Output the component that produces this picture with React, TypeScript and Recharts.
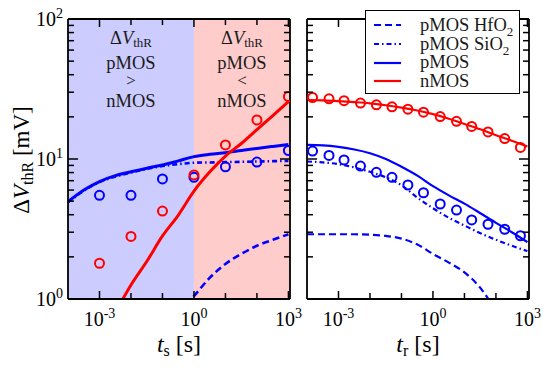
import React from 'react';
import {
  ComposedChart,
  Line,
  Scatter,
  XAxis,
  YAxis,
  ReferenceArea,
  Legend,
} from 'recharts';

const FONT = '"Liberation Serif", "Times New Roman", serif';
const BLUE = '#0000ff';
const RED = '#ff0000';

// ---- stress phase (left panel) ----
const tsMeas = [1e-3, 1e-2, 1e-1, 1, 10, 100, 1000];
const pmosStressMeas = [5.5, 5.5, 7.2, 7.4, 8.8, 9.5, 11.5];
const nmosStressMeas = [1.8, 2.8, 4.25, 7.7, 12.6, 19.0, 27.9];

// model curves sampled every half decade
const tModel = [1e-4, 3.2e-4, 1e-3, 3.2e-3, 1e-2, 3.2e-2, 0.1, 0.32, 1, 3.2, 10, 32, 100, 320, 1000];
const pmosStressModel = [4.95, 6.0, 6.9, 7.6, 8.1, 8.6, 9.06, 9.7, 10.4, 10.8, 11.1, 11.5, 11.9, 12.3, 12.7];
const sio2StressModel = [4.9, 5.95, 6.85, 7.5, 8.0, 8.5, 8.9, 9.2, 9.4, 9.45, 9.5, 9.55, 9.6, 9.65, 9.7];
const tHfStress = [0.32, 1, 3.2, 10, 32, 100, 320, 1000];
const hfo2StressModel = [0.8, 1.05, 1.42, 1.78, 2.1, 2.4, 2.65, 2.9];
const tnStress = [3.2e-3, 1e-2, 3.2e-2, 0.1, 0.32, 1, 3.2, 10, 32, 100, 320, 1000];
const nmosStressModel = [0.8, 1.26, 1.86, 2.82, 3.98, 5.9, 8.1, 10.5, 12.9, 16.2, 20.4, 25.7];

// ---- relaxation phase (right panel) ----
const trMeas = [1.5e-4, 5e-4, 1.5e-3, 5e-3, 1.6e-2, 5e-2, 0.16, 0.5, 1.7, 5.6, 17, 56, 190, 600];
const pmosRelaxMeas = [11.4, 10.6, 9.84, 8.91, 8.04, 7.4, 6.52, 5.74, 4.77, 4.32, 3.67, 3.42, 3.15, 2.83];
const nmosRelaxMeas = [27.5, 26.9, 26.1, 25.1, 24.4, 23.6, 22.7, 21.6, 20.1, 18.6, 17.1, 15.6, 14.0, 12.1];
const pmosRelaxModel = [12.6, 12.5, 12.2, 11.7, 11.0, 10.0, 8.8, 7.6, 6.4, 5.5, 4.8, 4.1, 3.5, 3.0, 2.55];
const sio2RelaxModel = [9.6, 9.45, 9.2, 8.7, 8.1, 7.4, 6.5, 5.3, 4.45, 3.8, 3.35, 2.95, 2.65, 2.4, 2.2];
const tHfRelax = [1e-4, 3.2e-4, 1e-3, 3.2e-3, 1e-2, 3.2e-2, 0.1, 0.32, 1, 3.2, 10, 32, 100];
const hfo2RelaxModel = [2.9, 2.9, 2.9, 2.9, 2.88, 2.82, 2.7, 2.45, 2.1, 1.82, 1.55, 1.2, 0.82];
const nmosRelaxModel = [26.4, 26.2, 25.9, 25.5, 25.0, 24.2, 23.3, 22.2, 20.9, 19.4, 17.8, 16.3, 14.8, 13.5, 12.3];

const xTicks = [1e-3, 1e-2, 1e-1, 1, 10, 100, 1000];
const yTicks = [1, 2, 3, 4, 5, 6, 7, 8, 9, 10, 20, 30, 40, 50, 60, 70, 80, 90, 100];
const xDomain = [1e-4, Math.pow(10, 3.05)];
const yDomain = [1, 100];

const legendOrder = ['pMOS HfO2', 'pMOS SiO2', 'pMOS', 'nMOS'];
const legendDash: Record<string, string | undefined> = {
  'pMOS HfO2': '7 4',
  'pMOS SiO2': '5 3 1.5 3',
};

const pts = (t: number[], v: number[]) => t.map((x, i) => ({ t: x, v: v[i] }));

const serif = { fontFamily: FONT };

const Pow = ({ x, y, e, anchor }: any) => (
  <text x={x} y={y} textAnchor={anchor} fontFamily={FONT} style={serif} fontSize={20} fill="#000">
    10<tspan dy={-8} fontSize={14}>{e}</tspan>
  </text>
);

const XTick = (props: any) => {
  const { x, y, payload, side, labels } = props;
  const e = Math.round(Math.log10(payload.value));
  const major = e % 3 === 0;
  const len = major ? 8 : 6;
  const d = side === 'bottom' ? -1 : 1;
  return (
    <g>
      <line x1={x} x2={x} y1={y} y2={y + d * len} stroke="#000" strokeWidth={1.5} />
      {labels && major && <Pow x={x} y={y + 27} e={e} anchor="middle" />}
    </g>
  );
};

const YTick = (props: any) => {
  const { x, y, payload, side, labels } = props;
  const lg = Math.log10(payload.value);
  const e = Math.round(lg);
  const major = Math.abs(lg - e) < 1e-9;
  const len = major ? 10 : 6;
  const d = side === 'left' ? 1 : -1;
  return (
    <g>
      <line x1={x} x2={x + d * len} y1={y} y2={y} stroke="#000" strokeWidth={1.5} />
      {labels && major && <Pow x={x - 5} y={y + 7} e={e} anchor="end" />}
    </g>
  );
};

const ShadeLabel = (props: any) => {
  const { viewBox, sign } = props;
  const cx = viewBox.x + viewBox.width / 2;
  const top = viewBox.y;
  const common = { x: cx, textAnchor: 'middle' as const, fontFamily: FONT, style: serif, fontSize: 18.5, fill: '#1a1a1a' };
  return (
    <g>
      <text {...common} y={top + 24.5}>
        Δ<tspan fontStyle="italic">V</tspan>
        <tspan fontSize={13} dy={3}>thR</tspan>
      </text>
      <text {...common} y={top + 50.3}>pMOS</text>
      <text {...common} fontSize={17} y={top + 67}>{sign}</text>
      <text {...common} y={top + 87.7}>nMOS</text>
    </g>
  );
};

const XTitle = (props: any) => {
  const { viewBox, sub } = props;
  const cx = viewBox.x + viewBox.width / 2;
  return (
    <text x={cx} y={352} textAnchor="middle" fontFamily={FONT} style={serif} fontSize={24} fill="#000">
      <tspan fontStyle="italic">t</tspan>
      <tspan fontSize={16} dy={4}>{sub}</tspan>
      <tspan dy={-4}> [s]</tspan>
    </text>
  );
};

const YTitle = () => (
  <text
    x={0}
    y={0}
    transform="translate(29, 160) rotate(-90)"
    textAnchor="middle"
    fontFamily={FONT}
    style={serif}
    fontSize={23}
    fill="#000"
  >
    Δ<tspan fontStyle="italic">V</tspan>
    <tspan fontSize={16} dy={4}>thR</tspan>
    <tspan dy={-4}> [mV]</tspan>
  </text>
);

const LegendBox = (props: any) => {
  const items = (props.payload || [])
    .filter((p: any) => p.type !== 'none' && legendOrder.includes(p.value))
    .sort((a: any, b: any) => legendOrder.indexOf(a.value) - legendOrder.indexOf(b.value));
  return (
    <div
      style={{
        width: 153,
        height: 77,
        boxSizing: 'content-box',
        border: '1.3px solid #000',
        background: '#fff',
        fontFamily: FONT,
        fontSize: 18.5,
        color: '#1a1a1a',
        paddingTop: 5,
      }}
    >
      {items.map((it: any) => {
        const name: string = it.value;
        const hasSub = name.endsWith('O2');
        return (
          <div key={name} style={{ display: 'flex', alignItems: 'center', height: 18.7, lineHeight: '18.7px' }}>
            <svg width={54} height={18} style={{ flex: 'none' }}>
              <line
                x1={8}
                x2={35}
                y1={9}
                y2={9}
                stroke={it.color}
                strokeWidth={2.2}
                strokeDasharray={legendDash[name]}
              />
            </svg>
            <span style={{ whiteSpace: 'nowrap' }}>
              {hasSub ? name.slice(0, -1) : name}
              {hasSub && <sub style={{ fontSize: 13, lineHeight: 0 }}>2</sub>}
            </span>
          </div>
        );
      })}
    </div>
  );
};

const axisLine = { stroke: '#000', strokeWidth: 1.8 };

const Axes = ({ leftLabels, xSub }: { leftLabels: boolean; xSub: string }) => [
  <XAxis
    key="xb"
    dataKey="t"
    type="number"
    scale="log"
    domain={xDomain}
    allowDataOverflow
    ticks={xTicks}
    interval={0}
    height={1}
    tickSize={0}
    tickMargin={0}
    tickLine={false}
    axisLine={axisLine}
    tick={<XTick side="bottom" labels />}
    label={<XTitle sub={xSub} />}
  />,
  <XAxis
    key="xt"
    xAxisId="top"
    orientation="top"
    dataKey="t"
    type="number"
    scale="log"
    domain={xDomain}
    allowDataOverflow
    ticks={xTicks}
    interval={0}
    height={1}
    tickSize={0}
    tickMargin={0}
    tickLine={false}
    axisLine={axisLine}
    tick={<XTick side="top" />}
  />,
  <YAxis
    key="yl"
    type="number"
    scale="log"
    domain={yDomain}
    allowDataOverflow
    ticks={yTicks}
    interval={0}
    width={1}
    tickSize={0}
    tickMargin={0}
    tickLine={false}
    axisLine={axisLine}
    tick={<YTick side="left" labels={leftLabels} />}
    label={leftLabels ? <YTitle /> : undefined}
  />,
  <YAxis
    key="yr"
    yAxisId="right"
    orientation="right"
    type="number"
    scale="log"
    domain={yDomain}
    allowDataOverflow
    ticks={yTicks}
    interval={0}
    width={1}
    tickSize={0}
    tickMargin={0}
    tickLine={false}
    axisLine={axisLine}
    tick={<YTick side="right" />}
  />,
];

const circle = (color: string) => (p: any) =>
  <circle cx={p.cx} cy={p.cy} r={4.5} fill="none" stroke={color} strokeWidth={2} />;

export default function App() {
  return (
    <div style={{ position: 'absolute', left: 0, top: 0, width: 553, height: 368, background: '#fff' }}>
      <div style={{ position: 'absolute', left: 0, top: 0 }}>
        <ComposedChart width={553} height={368} margin={{ top: 18, right: 262, bottom: 68, left: 67 }}>
          {Axes({ leftLabels: true, xSub: 's' })}
          <ReferenceArea x1={1e-4} x2={1} fill="#ccccff" fillOpacity={1} stroke="none" label={<ShadeLabel sign=">" />} />
          <ReferenceArea x1={1} x2={xDomain[1]} fill="#ffcccc" fillOpacity={1} stroke="none" label={<ShadeLabel sign="<" />} />
          <Line data={pts(tHfStress, hfo2StressModel)} dataKey="v" name="pMOS HfO2" type="monotone" stroke={BLUE} strokeWidth={2.6} strokeDasharray="7 4" dot={false} activeDot={false} isAnimationActive={false} />
          <Line data={pts(tModel, sio2StressModel)} dataKey="v" name="pMOS SiO2" type="monotone" stroke={BLUE} strokeWidth={2.6} strokeDasharray="5 3 1.5 3" dot={false} activeDot={false} isAnimationActive={false} />
          <Line data={pts(tModel, pmosStressModel)} dataKey="v" name="pMOS" type="monotone" stroke={BLUE} strokeWidth={3} dot={false} activeDot={false} isAnimationActive={false} />
          <Line data={pts(tnStress, nmosStressModel)} dataKey="v" name="nMOS" type="monotone" stroke={RED} strokeWidth={3} dot={false} activeDot={false} isAnimationActive={false} />
          <Scatter data={pts(tsMeas, pmosStressMeas)} dataKey="v" legendType="none" shape={circle(BLUE)} isAnimationActive={false} />
          <Scatter data={pts(tsMeas, nmosStressMeas)} dataKey="v" legendType="none" shape={circle(RED)} isAnimationActive={false} />
        </ComposedChart>
      </div>
      <div style={{ position: 'absolute', left: 0, top: 0 }}>
        <ComposedChart width={553} height={368} margin={{ top: 18, right: 23, bottom: 68, left: 306 }}>
          {Axes({ leftLabels: false, xSub: 'r' })}
          <Line data={pts(tHfRelax, hfo2RelaxModel)} dataKey="v" name="pMOS HfO2" type="monotone" stroke={BLUE} strokeWidth={2.2} strokeDasharray="7 4" dot={false} activeDot={false} isAnimationActive={false} />
          <Line data={pts(tModel, sio2RelaxModel)} dataKey="v" name="pMOS SiO2" type="monotone" stroke={BLUE} strokeWidth={2.2} strokeDasharray="5 3 1.5 3" dot={false} activeDot={false} isAnimationActive={false} />
          <Line data={pts(tModel, pmosRelaxModel)} dataKey="v" name="pMOS" type="monotone" stroke={BLUE} strokeWidth={2.2} dot={false} activeDot={false} isAnimationActive={false} />
          <Line data={pts(tModel, nmosRelaxModel)} dataKey="v" name="nMOS" type="monotone" stroke={RED} strokeWidth={2.2} dot={false} activeDot={false} isAnimationActive={false} />
          <Scatter data={pts(trMeas, pmosRelaxMeas)} dataKey="v" legendType="none" shape={circle(BLUE)} isAnimationActive={false} />
          <Scatter data={pts(trMeas, nmosRelaxMeas)} dataKey="v" legendType="none" shape={circle(RED)} isAnimationActive={false} />
          <Legend
            layout="vertical"
            align="center"
            verticalAlign="middle"
            wrapperStyle={{ left: 365, top: 10, width: 'auto', height: 'auto' }}
            content={<LegendBox />}
          />
        </ComposedChart>
      </div>
    </div>
  );
}
